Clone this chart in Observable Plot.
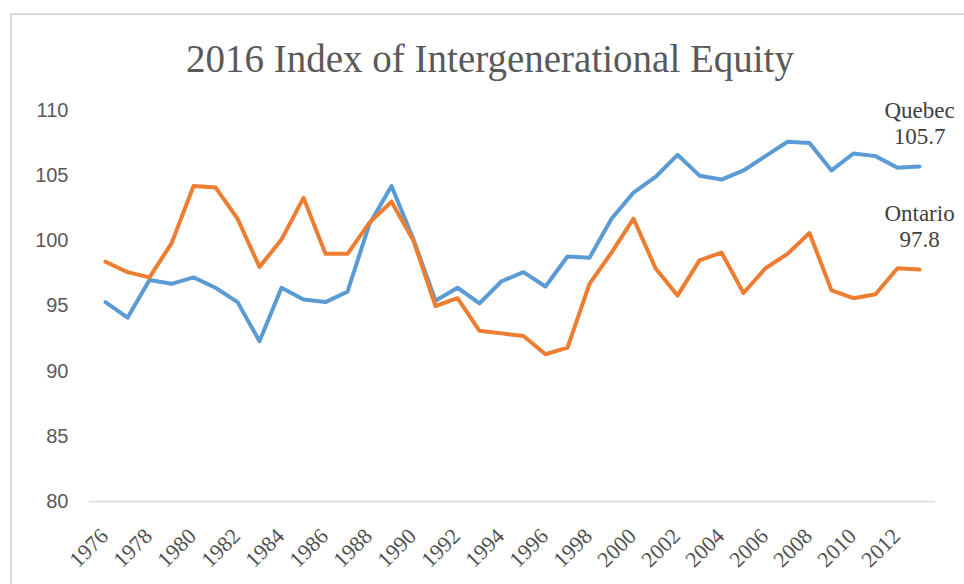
<!DOCTYPE html>
<html>
<head>
<meta charset="utf-8">
<script src="https://cdn.jsdelivr.net/npm/d3@7"></script>
<script src="https://cdn.jsdelivr.net/npm/@observablehq/plot@0.6"></script>
<style>
  html, body { margin: 0; padding: 0; background: #fff; }
  body { width: 964px; height: 584px; overflow: hidden; position: relative; }
  #frame { position: absolute; left: 10px; top: 13px; width: 1100px; height: 1000px;
           border: 2px solid #d9d9d9; box-sizing: border-box; pointer-events: none; }
  #titlebox { height: 90px; position: relative; }
  #title { position: absolute; left: 0; width: 980px; top: 39px; text-align: center;
           font-family: "Liberation Serif", serif; font-size: 39px; line-height: 1; color: #595959; }
  #chart { position: relative; }
</style>
</head>
<body>
<div id="frame"></div>
<div id="titlebox"><div id="title">2016 Index of Intergenerational Equity</div></div>
<div id="chart"></div>
<script>
const years = [1976,1977,1978,1979,1980,1981,1982,1983,1984,1985,1986,1987,
  1988,1989,1990,1991,1992,1993,1994,1995,1996,1997,1998,1999,
  2000,2001,2002,2003,2004,2005,2006,2007,2008,2009,2010,2011,2012,2013];
const quebec = [95.3,94.1,97.0,96.7,97.2,96.4,95.3,92.3,96.4,95.5,95.3,96.1,
  101.3,104.2,100.1,95.4,96.4,95.2,96.9,97.6,96.5,98.8,98.7,101.7,
  103.7,104.9,106.6,105.0,104.7,105.4,106.5,107.6,107.5,105.4,106.7,106.5,105.6,105.7];
const ontario = [98.4,97.6,97.2,99.8,104.2,104.1,101.7,98.0,100.1,103.3,99.0,99.0,
  101.4,103.0,100.0,95.0,95.6,93.1,92.9,92.7,91.3,91.8,96.7,99.1,
  101.7,97.9,95.8,98.5,99.1,96.0,97.9,99.0,100.6,96.2,95.6,95.9,97.9,97.8];
const yTicks = [80,85,90,95,100,105,110];
const xTickYears = years.filter(y => y % 2 === 0);
const seriesNames = ["Quebec","Ontario"];
const seriesColors = ["#5B9BD5","#ED7D31"];

const rows = [];
years.forEach((y, i) => {
  rows.push({year: y, value: quebec[i], series: seriesNames[0]});
  rows.push({year: y, value: ontario[i], series: seriesNames[1]});
});
const last = years.length - 1;
const endLabels = [
  {year: years[last], value: quebec[last], label: `${seriesNames[0]}\n${quebec[last].toFixed(1)}`},
  {year: years[last], value: ontario[last], label: `${seriesNames[1]}\n${ontario[last].toFixed(1)}`}
];

const chart = Plot.plot({
  width: 964,
  height: 494,
  marginTop: 20,
  marginBottom: 83,
  marginLeft: 89,
  marginRight: 29,
  style: {background: "transparent", overflow: "visible"},
  x: {type: "point", domain: years, padding: 0.5},
  y: {domain: [80, 110]},
  color: {domain: seriesNames, range: seriesColors},
  marks: [
    Plot.ruleY([80], {stroke: "#d9d9d9", strokeWidth: 1.5}),
    Plot.axisY({ticks: yTicks, tickSize: 0, tickPadding: 21, fontSize: 20,
      fontFamily: "Liberation Sans, sans-serif", fill: "#595959", label: null}),
    Plot.axisX({ticks: xTickYears, tickFormat: d => String(d), tickSize: 0, tickPadding: 31, tickRotate: -45,
      textAnchor: "end", lineAnchor: "middle", fontSize: 22, dx: -1,
      fontFamily: "Liberation Serif, serif", fill: "#505050", label: null}),
    Plot.line(rows, {x: "year", y: "value", z: "series", stroke: "series",
      strokeWidth: 4, strokeLinejoin: "round", strokeLinecap: "round"}),
    Plot.text(endLabels, {x: "year", y: "value", text: "label", lineAnchor: "bottom",
      dy: -23, fontSize: 23, lineHeight: 1.13, fontFamily: "Liberation Serif, serif",
      fill: "#404040", textAnchor: "middle"})
  ]
});
document.getElementById("chart").appendChild(chart);
</script>
</body>
</html>
